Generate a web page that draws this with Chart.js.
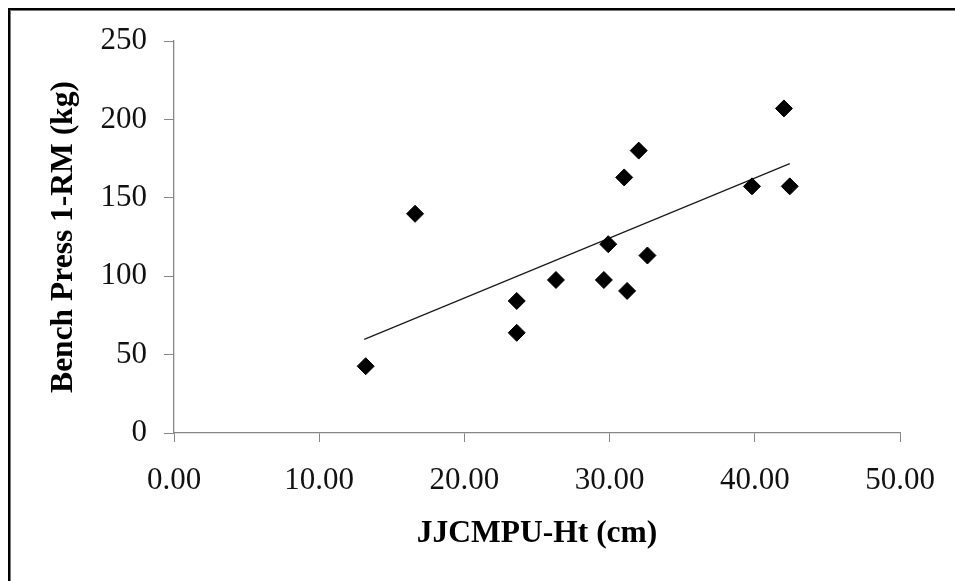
<!DOCTYPE html>
<html>
<head>
<meta charset="utf-8">
<script src="https://cdn.jsdelivr.net/npm/chart.js@4"></script>
<style>
    html, body { margin: 0; padding: 0; background: #fff; }
    #wrap { position: relative; width: 955px; height: 581px; }
    #frame {
        position: absolute; left: 8px; top: 8px; right: -10px; bottom: -10px;
        border-top: 2px solid #000; border-left: 2px solid #000;
        box-shadow: inset 1px 1px 0 #777;
        pointer-events: none;
    }
</style>
</head>
<body>
<div id="wrap">
    <canvas id="chart" width="955" height="581"></canvas>
    <div id="frame"></div>
</div>
<script>
// jump height (cm) vs bench press 1-RM (kg)
const jumpHt = [13.2, 16.6, 23.6, 23.6, 26.3, 29.6, 29.9, 31.2, 31.0, 32.0, 32.6, 39.8, 42.4, 42.0];
const bench1RM = [42.6, 139.8, 84.2, 63.9, 97.6, 97.6, 120.4, 90.6, 163.0, 180.1, 113.2, 157.3, 157.3, 207.0];
// linear trend line, ends
const trendX = [13.1, 42.4];
const trendY = [59.7, 171.8];
const xTicks = [0, 10, 20, 30, 40, 50];
const yTicks = [0, 50, 100, 150, 200, 250];

const serif = "'Liberation Serif', 'Times New Roman', serif";
const axisGrey = '#878787';

const points = jumpHt.map((x, i) => ({x: x, y: bench1RM[i]}));
const trend = trendX.map((x, i) => ({x: x, y: trendY[i]}));

new Chart(document.getElementById('chart').getContext('2d'), {
    type: 'scatter',
    data: {
        datasets: [{
            type: 'line',
            data: trend,
            borderColor: '#1a1a1a',
            borderWidth: 1.2,
            pointRadius: 0,
            fill: false,
            order: 2
        }, {
            data: points,
            pointStyle: 'rectRot',
            pointRadius: 8.5,
            backgroundColor: '#000',
            borderColor: '#000',
            borderWidth: 1,
            order: 1
        }]
    },
    options: {
        responsive: false,
        animation: false,
        layout: {padding: {left: 0, right: 50, top: 41, bottom: 0}},
        plugins: {legend: {display: false}, tooltip: {enabled: false}},
        scales: {
            x: {
                type: 'linear',
                min: 0, max: 50,
                afterBuildTicks: s => { s.ticks = xTicks.map(v => ({value: v})); },
                afterFit: s => { s.height = 148; },
                grid: {drawOnChartArea: false, color: axisGrey, tickLength: 9, tickColor: axisGrey},
                border: {color: axisGrey, width: 1.3},
                ticks: {
                    color: '#111', padding: 20, maxRotation: 0,
                    font: {family: serif, size: 31},
                    callback: v => v.toFixed(2)
                },
                title: {
                    display: true, text: 'JJCMPU-Ht (cm)', color: '#000',
                    font: {family: serif, size: 31.5, weight: 'bold'},
                    padding: {top: 0, bottom: 28}
                }
            },
            y: {
                type: 'linear',
                min: 0, max: 250,
                afterBuildTicks: s => { s.ticks = yTicks.map(v => ({value: v})); },
                afterFit: s => { s.width = 174; },
                grid: {drawOnChartArea: false, color: axisGrey, tickLength: 10, tickColor: axisGrey},
                border: {color: axisGrey, width: 1.3},
                ticks: {
                    color: '#111', padding: 17,
                    font: {family: serif, size: 31}
                },
                title: {
                    display: true, text: 'Bench Press 1-RM (kg)', color: '#000',
                    font: {family: serif, size: 31.5, weight: 'bold'},
                    padding: {top: 45, bottom: 0}
                }
            }
        }
    }
});
</script>
</body>
</html>
